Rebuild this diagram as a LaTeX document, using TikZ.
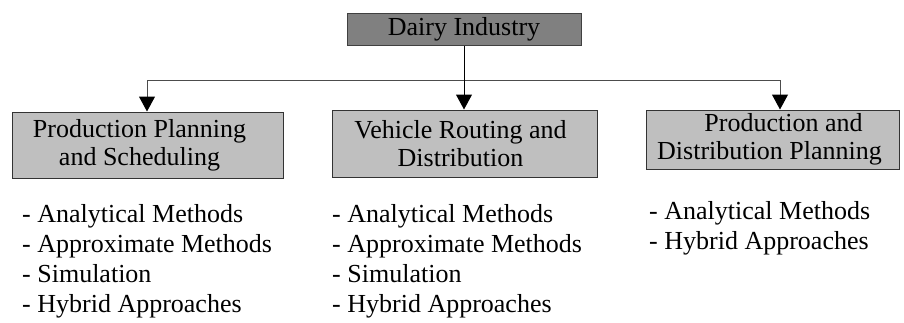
\documentclass[tikz,border=0pt]{standalone}
\usepackage{fontspec}
\setmainfont{Liberation Serif}
\usetikzlibrary{arrows.meta}
\begin{document}
\begin{tikzpicture}[x=1pt,y=-1pt,
  topbox/.style={draw=black!75, line width=1pt, fill=black!50, inner sep=0pt,
    minimum width=234pt, minimum height=32pt,
    font=\fontsize{26}{28}\selectfont},
  catbox/.style={draw=black!80, line width=1pt, fill=black!25, inner sep=0pt,
    align=center, font=\fontsize{26}{28}\selectfont},
  itemlist/.style={anchor=base west, inner sep=0pt, align=left,
    font=\fontsize{26}{30}\selectfont},
  link/.style={draw=black!70, line width=1pt},
  feed/.style={link, -{Triangle[width=16pt,length=15pt,black]}},
]
\useasboundingbox (0,0) rectangle (904,322);

% root of the hierarchy
\node[topbox] (root) at (464,29) {Dairy Industry};

% three research areas
\node[catbox, minimum width=271pt, minimum height=66pt] (b1) at (147.5,145)
  {Production Planning\hspace*{16pt}\\and Scheduling\hspace*{16pt}};
\node[catbox, minimum width=265pt, minimum height=67pt] (b2) at (464.5,143.5)
  {Vehicle Routing and\hspace*{8pt}\\Distribution\hspace*{8pt}};
\node[catbox, minimum width=253pt, minimum height=59pt] (b3) at (772.5,139.5)
  {\hspace*{22pt}Production and\\Distribution Planning\hspace*{6pt}};

% branching connector
\coordinate (jn) at (464,80);
\coordinate (hl) at (147,80);
\coordinate (hr) at (780,80);
\draw[link, draw=black] (root) -- (jn);
\draw[link] (hl) -- (hr);
\draw[feed] (hl) -- (hl |- b1.north);
\draw[feed, draw=black] (jn) -- (jn |- b2.north);
\draw[feed] (hr) -- (hr |- b3.north);

% method lists under each area (anchored at the last line's baseline)
\node[itemlist] (l1) at (22,312)
  {- Analytical Methods\\- Approximate Methods\\- Simulation\\- Hybrid Approaches};
\node[itemlist] (l2) at (332,312)
  {- Analytical Methods\\- Approximate Methods\\- Simulation\\- Hybrid Approaches};
\node[itemlist] (l3) at (649,249)
  {- Analytical Methods\\- Hybrid Approaches};
\end{tikzpicture}
\end{document}
